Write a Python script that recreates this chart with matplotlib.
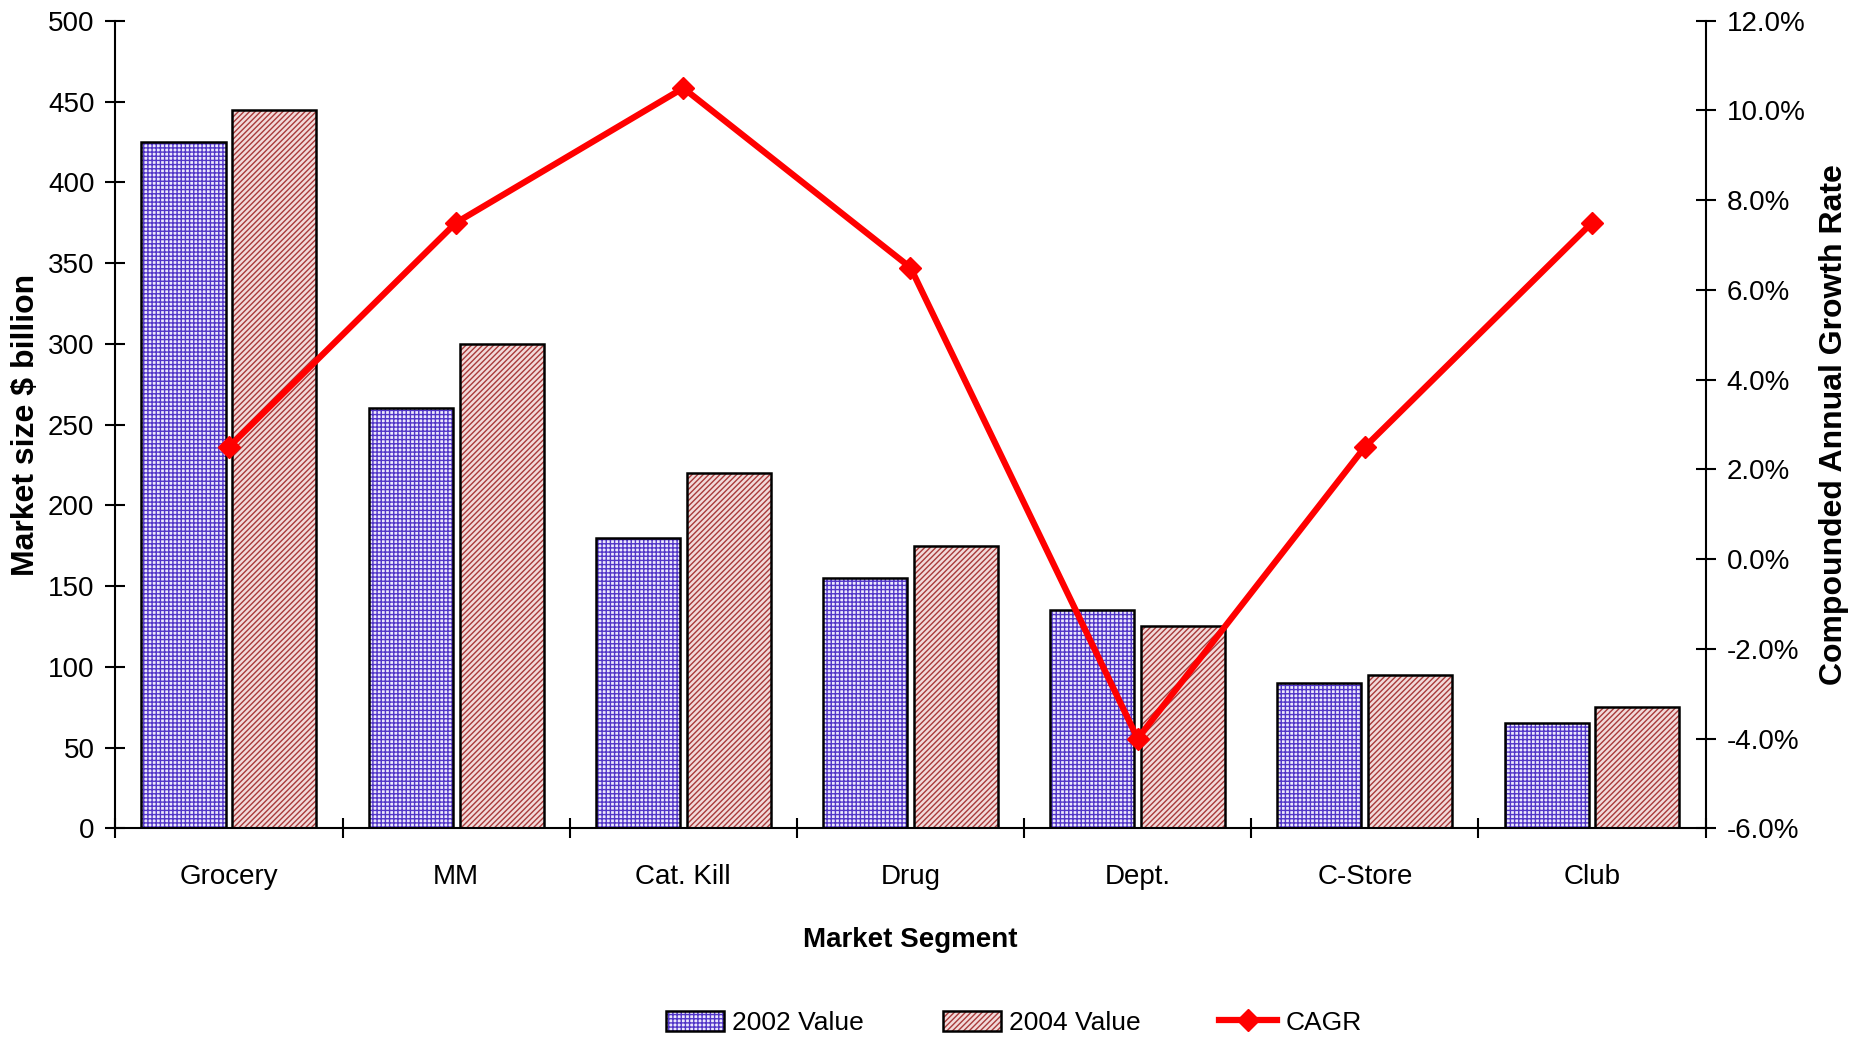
import numpy as np
import matplotlib.pyplot as plt
import matplotlib as mpl
from matplotlib.patches import Patch
from matplotlib.legend_handler import HandlerTuple
from matplotlib.ticker import FuncFormatter, FixedLocator

plt.rcParams['font.family'] = ['Liberation Sans', 'DejaVu Sans']
mpl.rcParams['hatch.linewidth'] = 1.0

# Market data
segments = ['Grocery', 'MM', 'Cat. Kill', 'Drug', 'Dept.', 'C-Store', 'Club']
value_2002 = [425, 260, 180, 155, 135, 90, 65]
value_2004 = [445, 300, 220, 175, 125, 95, 75]
cagr = [2.5, 7.5, 10.5, 6.5, -4.0, 2.5, 7.5]

x = np.arange(len(segments))
width = 0.37

fig = plt.figure(figsize=(18.6, 10.38), dpi=100)
ax = fig.add_axes([0.062, 0.202, 0.855, 0.778])

# hatch takes the edge colour, so fill first and outline on top
fill_2002 = dict(facecolor='#ece8fc', edgecolor='#5236c8', linewidth=0, hatch='++++')
fill_2004 = dict(facecolor='#f2dada', edgecolor='#a83a3a', linewidth=0, hatch='//////')
outline = dict(facecolor='none', edgecolor='black', linewidth=1.8)

ax.bar(x - 0.2, value_2002, width, **fill_2002)
ax.bar(x + 0.2, value_2004, width, **fill_2004)
ax.bar(x - 0.2, value_2002, width, **outline)
ax.bar(x + 0.2, value_2004, width, **outline)

ax.set_xlim(-0.5, len(segments) - 0.5)
ax.set_ylim(0, 500)
ax.set_yticks(np.arange(0, 501, 50))
ax.xaxis.set_major_locator(FixedLocator(np.arange(-0.5, len(segments), 1)))
ax.xaxis.set_minor_locator(FixedLocator(x))
ax.set_xticklabels([])
ax.set_xticklabels(segments, minor=True)
ax.tick_params(axis='x', which='major', direction='inout', length=14, width=1.5)
ax.tick_params(axis='x', which='minor', length=0, pad=26, labelsize=20)
ax.tick_params(axis='y', direction='inout', length=14, width=1.5, labelsize=20, pad=8)
ax.spines['top'].set_visible(False)
ax.spines['right'].set_visible(False)
for s in ['left', 'bottom']:
    ax.spines[s].set_linewidth(1.5)

ax.set_xlabel('Market Segment', fontsize=20, fontweight='bold', labelpad=26)
ax.set_ylabel('Market size $ billion', fontsize=23, fontweight='bold', labelpad=5)

ax2 = ax.twinx()
line, = ax2.plot(x, cagr, color='#ff0000', linewidth=4.5, marker='D',
                 markersize=11, label='CAGR')
ax2.set_ylim(-6, 12)
ax2.set_yticks(np.arange(-6, 12.1, 2))
ax2.yaxis.set_major_formatter(FuncFormatter(lambda v, p: f'{v:.1f}%'))
ax2.tick_params(axis='y', direction='inout', length=14, width=1.5, labelsize=20, pad=8)
ax2.spines['top'].set_visible(False)
ax2.spines['left'].set_visible(False)
ax2.spines['bottom'].set_visible(False)
ax2.spines['right'].set_linewidth(1.5)
ax2.set_ylabel('Compounded Annual Growth Rate', fontsize=23, fontweight='bold', labelpad=10)

h1 = (Patch(**fill_2002), Patch(**outline))
h2 = (Patch(**fill_2004), Patch(**outline))
fig.legend(handles=[h1, h2, line], labels=['2002 Value', '2004 Value', 'CAGR'],
           handler_map={tuple: HandlerTuple(ndivide=1)},
           loc='lower center', ncol=3, frameon=False, fontsize=19,
           bbox_to_anchor=(0.545, -0.02), columnspacing=3.0,
           handlelength=2.2, handleheight=0.8, handletextpad=0.3)

plt.savefig('out.png', dpi=100)
